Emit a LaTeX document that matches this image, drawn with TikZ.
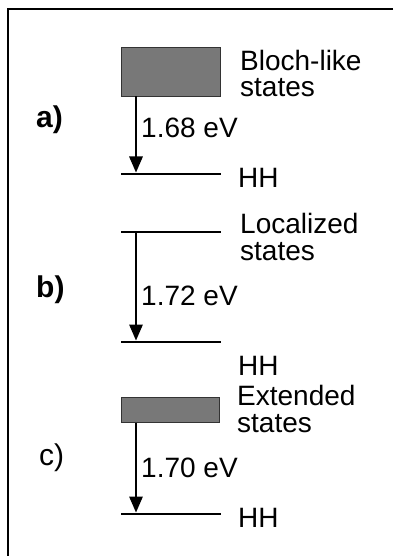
\documentclass[tikz,border=0pt]{standalone}
\usepackage{fontspec}
\setmainfont{Liberation Sans}
\usetikzlibrary{arrows.meta}
\begin{document}
\begin{tikzpicture}[x=1pt,y=-1pt,
  txt/.style={anchor=base west,inner sep=0pt,font=\fontsize{28}{28}\selectfont},
  twoline/.style={anchor=base west,inner sep=0pt,align=left,
    font=\fontsize{28}{26.5}\selectfont},
  tag/.style={anchor=base west,inner sep=0pt,font=\fontsize{30}{30}\selectfont},
  band/.style={draw=black!80,line width=0.8pt,fill=black!53},
  level/.style={line width=1.3pt},
  trans/.style={line width=1.5pt,-{Triangle[length=16pt,width=13.5pt]},shorten >=1.5pt},
  frame/.style={line width=2pt}]
\useasboundingbox (0,0) rectangle (393,556);
% open frame: top and left edges only
\coordinate (fc) at (8,9.5);
\coordinate (ft) at (393,9.5);
\coordinate (fl) at (8,556);
\draw[frame] (ft) -- (fc) -- (fl);

% a) Bloch-like states
\path[band] (121,47) rectangle (220,96);
\coordinate (a1) at (136,96.5);
\coordinate (hl1) at (121,174);
\coordinate (hr1) at (221,174);
\coordinate (a2) at (136,174);
\draw[level] (hl1) -- (hr1);
\draw[trans] (a1) -- (a2);
\node[tag,font=\fontsize{30}{30}\selectfont\bfseries] (la) at (36,128) {a)};
\node[txt] (ea) at (141,138) {1.68 eV};
% base anchor of a multi-line node sits on its last line
\node[twoline] (sa) at (240,97) {Bloch-like\\states};
\node[txt] (ha) at (238,187) {HH};

% b) localized states
\coordinate (tl2) at (121,232);
\coordinate (tr2) at (221,232);
\coordinate (hl2) at (121,342);
\coordinate (hr2) at (221,342);
\coordinate (b1) at (136,232);
\coordinate (b2) at (136,342);
\draw[level] (tl2) -- (tr2);
\draw[level] (hl2) -- (hr2);
\draw[trans] (b1) -- (b2);
\node[tag,font=\fontsize{30}{30}\selectfont\bfseries] (lb) at (36,297) {b)};
\node[txt] (eb) at (141,305) {1.72 eV};
\node[twoline] (sb) at (240,260) {Localized\\states};
\node[txt] (hb) at (238,375) {HH};

% c) extended states
\path[band] (121,397) rectangle (219,422);
\coordinate (c1) at (136,422.5);
\coordinate (hl3) at (121,514);
\coordinate (hr3) at (221,514);
\coordinate (c2) at (136,514);
\draw[level] (hl3) -- (hr3);
\draw[trans] (c1) -- (c2);
\node[tag] (lc) at (39,465) {c)};
\node[txt] (ec) at (141,477) {1.70 eV};
\node[twoline] (sc) at (237,432) {Extended\\states};
\node[txt] (hc) at (238,527) {HH};
\end{tikzpicture}
\end{document}
